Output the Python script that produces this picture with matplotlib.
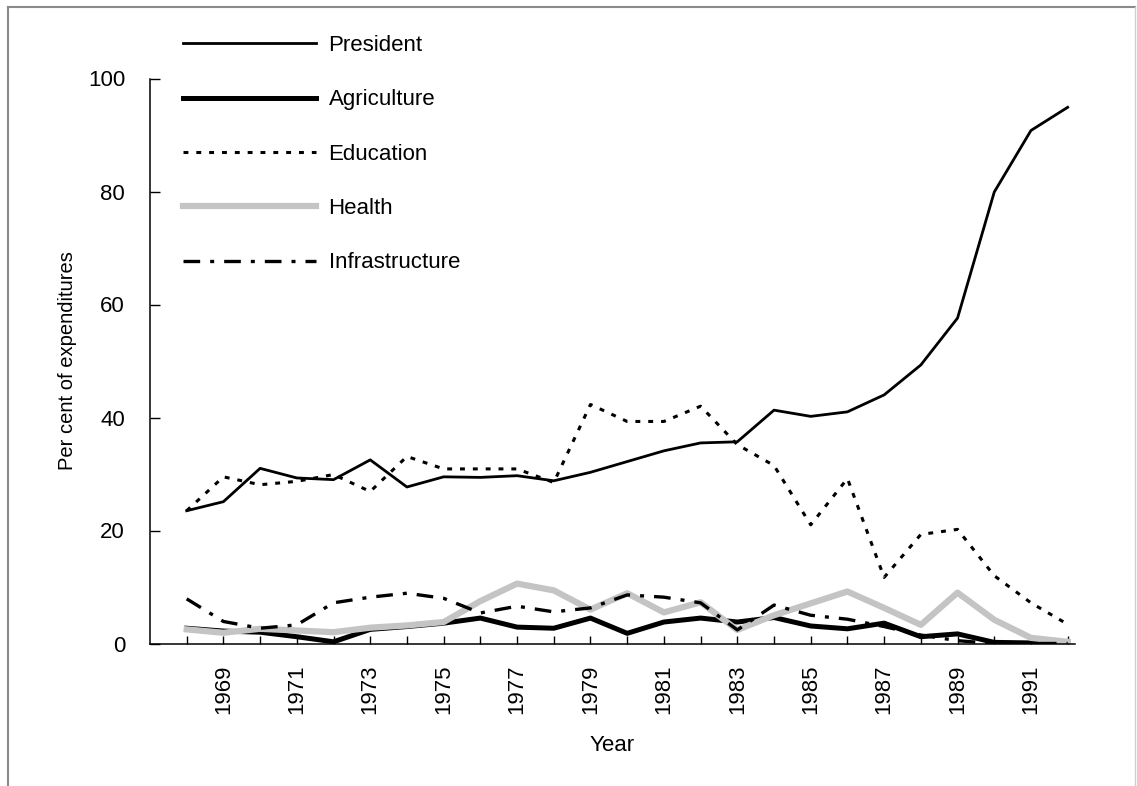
import matplotlib
matplotlib.use("Agg")
import matplotlib.pyplot as plt
from matplotlib.lines import Line2D

plt.rcParams["font.family"] = ["Liberation Sans", "DejaVu Sans"]

years = [1968, 1969, 1970, 1971, 1972, 1973, 1974, 1975, 1976, 1977, 1978, 1979,
         1980, 1981, 1982, 1983, 1984, 1985, 1986, 1987, 1988, 1989, 1990, 1991, 1992]

president = [23.5, 25.1, 31.0, 29.3, 29.0, 32.5, 27.7, 29.5, 29.4, 29.7, 28.8, 30.3,
             32.2, 34.1, 35.5, 35.7, 41.3, 40.2, 41.0, 44.0, 49.3, 57.6, 79.9, 90.8, 94.9]
agriculture = [2.7, 2.2, 2.0, 1.2, 0.3, 2.5, 3.0, 3.6, 4.5, 2.9, 2.7, 4.5,
               1.8, 3.8, 4.5, 3.8, 4.6, 3.1, 2.6, 3.6, 1.2, 1.7, 0.2, 0.1, 0.0]
education = [23.5, 29.5, 28.1, 28.7, 29.9, 26.9, 33.1, 30.9, 30.9, 30.9, 28.5, 42.3,
             39.3, 39.3, 42.0, 35.2, 31.5, 21.0, 29.2, 11.7, 19.3, 20.2, 12.0, 7.2, 3.4]
health = [2.5, 1.9, 2.6, 2.3, 2.0, 2.8, 3.2, 3.8, 7.5, 10.6, 9.4, 6.0,
          8.9, 5.5, 7.3, 2.4, 5.0, 7.1, 9.2, 6.3, 3.3, 9.0, 4.2, 1.0, 0.3]
infrastructure = [7.9, 3.9, 2.7, 3.3, 7.2, 8.2, 8.9, 8.0, 5.4, 6.6, 5.6, 6.3,
                  8.6, 8.2, 7.2, 2.4, 6.8, 5.0, 4.3, 3.0, 1.5, 0.5, 0.0, 0.0, 0.0]

label_years = list(range(1969, 1992, 2))

FS = 16
W, H = 1137, 786
fig = plt.figure(figsize=(W / 100, H / 100), dpi=100)
ax = fig.add_axes([150 / W, 1 - 643.5 / H, (1075 - 150) / W, (643.5 - 78.5) / H])

ax.plot(years, president, color="black", lw=2.0, label="President")
ax.plot(years, education, color="black", lw=2.2, dashes=(1.6, 2.6), label="Education")
ax.plot(years, agriculture, color="black", lw=3.6, label="Agriculture")
ax.plot(years, health, color="#c4c4c4", lw=4.5, label="Health")
ax.plot(years, infrastructure, color="black", lw=2.4, dashes=(5, 3, 1.2, 3), label="Infrastructure")

ax.set_xlim(1967, 1992.2)
ax.set_ylim(0, 100)
ax.set_yticks(range(0, 101, 20))
ax.set_xticks(years, minor=True)
ax.set_xticks(label_years)
ax.set_xticklabels([str(y) for y in label_years], rotation=90)

for s in ("top", "right"):
    ax.spines[s].set_visible(False)
ax.spines["left"].set_linewidth(1.1)
ax.spines["bottom"].set_linewidth(1.1)
ax.tick_params(axis="x", which="both", direction="in", length=6, width=1, pad=15, labelsize=FS)
ax.tick_params(axis="y", direction="in", length=7, width=1, pad=18, labelsize=FS)

ax.set_xlabel("Year", fontsize=FS, labelpad=15)
ax.set_ylabel("Per cent of expenditures", fontsize=14.5, labelpad=8)

# legend order as in the reference
handles, labels = ax.get_legend_handles_labels()
order = ["President", "Agriculture", "Education", "Health", "Infrastructure"]
hmap = dict(zip(labels, handles))
fig.legend([hmap[k] for k in order], order, loc="upper left",
           bbox_to_anchor=(183 / W, 1 - 35 / H), frameon=False, fontsize=FS,
           handlelength=6.0, handletextpad=0.55, labelspacing=1.5,
           borderpad=0, borderaxespad=0)

# page frame around the figure
frame = dict(color="#8a8a8a", lw=1.5, transform=fig.transFigure)
fig.add_artist(Line2D([8 / W, 8 / W], [0, 1 - 7 / H], **frame))
fig.add_artist(Line2D([8 / W, 1135 / W], [1 - 7 / H, 1 - 7 / H], **frame))
fig.add_artist(Line2D([1135 / W, 1135 / W], [0, 1 - 7 / H], color="#d0d0d0", lw=1.0,
                      transform=fig.transFigure))

fig.savefig("out.png", dpi=100)
